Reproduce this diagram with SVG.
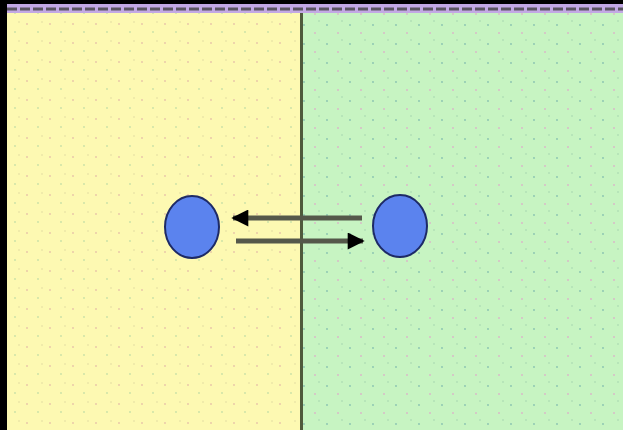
<svg xmlns="http://www.w3.org/2000/svg" width="623" height="430" viewBox="0 0 623 430">
<style>
.node{fill:#5b83ee;stroke:#1d2a66;stroke-width:2}
.conn{stroke:#55584a;stroke-width:5;fill:none}
</style>
<defs>
<pattern id="dotsY" width="23" height="19" patternUnits="userSpaceOnUse">
<rect width="23" height="19" fill="#fdf9b2"/>
<circle cx="4" cy="5" r="0.9" fill="#e8c4a8"/>
<circle cx="15" cy="13" r="0.9" fill="#c8e0a6"/>
<circle cx="19" cy="3" r="0.7" fill="#d9d49c"/>
</pattern>
<pattern id="dotsG" width="23" height="19" patternUnits="userSpaceOnUse">
<rect width="23" height="19" fill="#c7f4c2"/>
<circle cx="5" cy="6" r="0.9" fill="#88c2b0"/>
<circle cx="16" cy="14" r="0.9" fill="#dbb5c8"/>
<circle cx="20" cy="2" r="0.7" fill="#9ccca9"/>
</pattern>
<marker id="ah" viewBox="0 0 10 10" refX="9" refY="5" markerWidth="5.4" markerHeight="3.4" markerUnits="strokeWidth" orient="auto">
<path d="M0,0 L10,5 L0,10 Z" fill="#000"/>
</marker>
</defs>
<rect x="0" y="0" width="623" height="430" fill="#fdf9b2"/>
<rect x="7" y="13" width="295" height="417" fill="url(#dotsY)"/>
<rect x="302" y="13" width="321" height="417" fill="url(#dotsG)"/>
<rect x="0" y="0" width="623" height="4" fill="#000"/>
<rect x="0" y="0" width="7" height="430" fill="#000"/>
<rect x="7" y="4" width="616" height="9" fill="#c2a8e4"/>
<line x1="7" y1="9" x2="623" y2="9" stroke="#5a5560" stroke-width="3" stroke-dasharray="10 3"/>
<line x1="301.5" y1="13" x2="301.5" y2="430" stroke="#4f5a3c" stroke-width="3"/>
<g id="connectors">
<line class="conn" x1="362" y1="218" x2="233" y2="218" marker-end="url(#ah)"/>
<line class="conn" x1="236" y1="241" x2="363" y2="241" marker-end="url(#ah)"/>
</g>
<g id="nodeLeft"><ellipse class="node" cx="192" cy="227" rx="27" ry="31"/></g>
<g id="nodeRight"><ellipse class="node" cx="400" cy="226" rx="27" ry="31"/></g>
</svg>
